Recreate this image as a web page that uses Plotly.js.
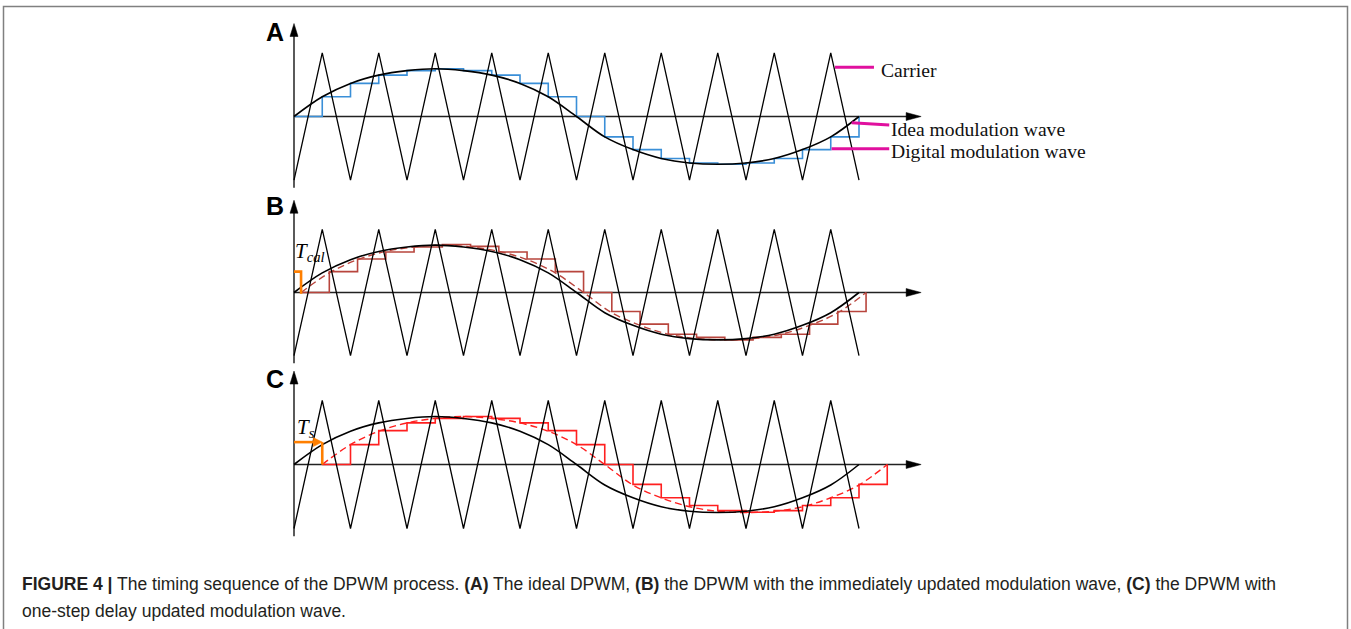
<!DOCTYPE html>
<html><head><meta charset="utf-8">
<script src="https://cdn.plot.ly/plotly-3.0.1.min.js"></script>
<style>html,body{margin:0;padding:0;background:#fff;overflow:hidden}#chart{width:1351px;height:629px}</style>
</head><body><div id="chart"></div>
<script>
// ---- data (time in carrier half-periods, amplitude in carrier units) ----
const sampleT   = [0,1,2,3,4,5,6,7,8,9,10,11,12,13,14,15,16,17,18,19,20];
const carrierV  = [-1,1,-1,1,-1,1,-1,1,-1,1,-1,1,-1,1,-1,1,-1,1,-1,1,-1];
const idealV    = [0,0.31,0.52,0.65,0.72,0.75,0.72,0.65,0.52,0.31,0,-0.32,-0.52,-0.66,-0.73,-0.75,-0.73,-0.66,-0.52,-0.32,0];
const digitalA  = [0,0.31,0.52,0.65,0.72,0.75,0.72,0.65,0.52,0.31,0,-0.32,-0.52,-0.66,-0.73,-0.75,-0.73,-0.66,-0.52,-0.32,0];
const digitalB  = [0,0.33,0.53,0.64,0.72,0.76,0.73,0.64,0.53,0.33,0,-0.30,-0.50,-0.66,-0.71,-0.75,-0.71,-0.66,-0.50,-0.30,0];
const digitalC  = [0,0.31,0.53,0.65,0.72,0.75,0.72,0.65,0.53,0.31,0,-0.31,-0.52,-0.64,-0.72,-0.745,-0.72,-0.64,-0.52,-0.31,0];
const delayB = 0.25;   // T_cal
const delayC = 1;      // T_s
const panelLabels  = ['A','B','C'];
const legendLabels = ['Carrier','Idea modulation wave','Digital modulation wave'];
const captionLine1 = '<b>FIGURE 4 |</b> The timing sequence of the DPWM process. <b>(A)</b> The ideal DPWM, <b>(B)</b> the DPWM with the immediately updated modulation wave, <b>(C)</b> the DPWM with';
const captionLine2 = 'one-step delay updated modulation wave.';

// ---- layout geometry ----
const W = 1351, H = 629;
const X0PX = 294, PX_PER_T = 28.25;
const xRange = [-X0PX/PX_PER_T, (W-X0PX)/PX_PER_T];
const panels = [
  {axis:'yaxis',  ref:'y',  zeroPx:116.5, unitPx:63.7, digital:digitalA, delay:0,      color:'#3a8fd8', dashColor:null,      labelY:32},
  {axis:'yaxis2', ref:'y2', zeroPx:292.5, unitPx:63.2, digital:digitalB, delay:delayB, color:'#b8453d', dashColor:'#b8453d', labelY:206},
  {axis:'yaxis3', ref:'y3', zeroPx:464.5, unitPx:64.0, digital:digitalC, delay:delayC, color:'#ff1f1f', dashColor:'#ff1f1f', labelY:379}
];
const AX_END_T = 22.2, YAX_TOP = 1.46, YAX_BOT = -1.12;
const ORANGE = '#ff7f00', MAGENTA = '#e0109e';

const traces = [];
const annotations = [];
function line(x, y, ref, color, width, extra) {
  traces.push(Object.assign({type:'scatter', mode:'lines', x:x, y:y, yaxis:ref, xaxis:'x',
    line:{color:color, width:width}, hoverinfo:'skip', showlegend:false, cliponaxis:false}, extra||{}));
}
function arrowHead(p, tipT, tipV, dir, lenPx, halfPx, color) {
  const dT = lenPx/PX_PER_T, hT = halfPx/PX_PER_T;
  const dV = lenPx/p.unitPx, hV = halfPx/p.unitPx;
  let x, y;
  if (dir === 'right') { x = [tipT, tipT-dT, tipT-dT, tipT]; y = [tipV, tipV+hV, tipV-hV, tipV]; }
  else { x = [tipT, tipT-hT, tipT+hT, tipT]; y = [tipV, tipV-dV, tipV-dV, tipV]; }
  traces.push({type:'scatter', mode:'lines', x:x, y:y, yaxis:p.ref, xaxis:'x', fill:'toself',
    fillcolor:color, line:{color:color, width:0.5}, hoverinfo:'skip', showlegend:false, cliponaxis:false});
}

panels.forEach((p, i) => {
  // axes
  line([0, AX_END_T - 12/PX_PER_T], [0, 0], p.ref, '#222', 1.3);
  arrowHead(p, AX_END_T, 0, 'right', 15, 4, '#000');
  line([0, 0], [YAX_BOT, YAX_TOP - 10/p.unitPx], p.ref, '#000', 1.3);
  arrowHead(p, 0, YAX_TOP, 'up', 13, 4, '#000');
  // digital staircase
  line(sampleT.map(t => t + p.delay), p.digital, p.ref, p.color, 1.6, {line:{color:p.color, width:1.6, shape:'hv'}});
  // delayed equivalent wave
  if (p.dashColor) {
    line(sampleT.map(t => t + p.delay), idealV, p.ref, p.dashColor, 1.4,
      {line:{color:p.dashColor, width:1.4, shape:'spline', dash:'7px,4px'}});
  }
  // ideal modulation wave
  line(sampleT, idealV, p.ref, '#000', 1.6, {line:{color:'#000', width:1.6, shape:'spline'}});
  // carrier
  line(sampleT, carrierV, p.ref, '#000', 1.3);
  // panel label
  annotations.push({xref:'paper', yref:'paper', x:275/W, y:1 - p.labelY/H, xanchor:'center', yanchor:'middle',
    text:'<b>' + panelLabels[i] + '</b>', showarrow:false, font:{family:'Liberation Sans, Arial', size:25, color:'#000'}});
});

// T_cal marker (panel B)
const pC = panels[2];
line([0, delayB, delayB], [0.33, 0.33, -0.02], 'y2', ORANGE, 2.6);
annotations.push({xref:'x', yref:'y2', x:-0.05, y:0.64, xanchor:'left', yanchor:'middle', showarrow:false,
  text:'<i>T</i><sub><i>cal</i></sub>', font:{family:'Liberation Serif, Times New Roman', size:21, color:'#000'}});
// T_s marker (panel C)
line([0, delayC - 6/PX_PER_T], [0.35, 0.35], 'y3', ORANGE, 2.6);
arrowHead(pC, delayC, 0.35, 'right', 9, 4.5, ORANGE);
line([delayC, delayC], [0.35, 0], 'y3', ORANGE, 2.6);
annotations.push({xref:'x', yref:'y3', x:0.05, y:0.57, xanchor:'left', yanchor:'middle', showarrow:false,
  text:'<i>T</i><sub><i>s</i></sub>', font:{family:'Liberation Serif, Times New Roman', size:21, color:'#000'}});

// legend leaders (panel A)
const leaders = [
  {x:[19.15, 20.53], y:[0.772, 0.772], tx:20.72, ty:0.73},
  {x:[19.74, 21.07], y:[-0.097, -0.133], tx:21.05, ty:-0.21},
  {x:[19.03, 21.07], y:[-0.505, -0.505], tx:21.05, ty:-0.55}
];
leaders.forEach((l, i) => {
  line(l.x, l.y, 'y', MAGENTA, 3);
  annotations.push({xref:'x', yref:'y', x:l.tx, y:l.ty, xanchor:'left', yanchor:'middle', showarrow:false,
    text:legendLabels[i], font:{family:'Liberation Serif, Times New Roman', size:19.6, color:'#111'}});
});

// caption
annotations.push({xref:'paper', yref:'paper', x:20/W, y:1 - 584/H, xanchor:'left', yanchor:'middle', showarrow:false,
  text:captionLine1, font:{family:'Liberation Sans, Arial', size:17.5, color:'#231f20'}});
annotations.push({xref:'paper', yref:'paper', x:20/W, y:1 - 611/H, xanchor:'left', yanchor:'middle', showarrow:false,
  text:captionLine2, font:{family:'Liberation Sans, Arial', size:17.5, color:'#231f20'}});

const layout = {
  width:W, height:H, margin:{l:0, r:0, t:0, b:0}, paper_bgcolor:'#fff', plot_bgcolor:'#fff',
  showlegend:false, hovermode:false,
  xaxis:{range:xRange, visible:false, fixedrange:true},
  annotations:annotations,
  shapes:[{type:'rect', xref:'paper', yref:'paper', x0:3.5/W, x1:1347.5/W, y0:-0.05, y1:1 - 6.5/H,
    line:{color:'#808080', width:1.5}, fillcolor:'rgba(0,0,0,0)'}]
};
panels.forEach(p => {
  const vmax = p.zeroPx / p.unitPx;
  layout[p.axis] = {range:[vmax - H/p.unitPx, vmax], visible:false, fixedrange:true};
  if (p.ref !== 'y') { layout[p.axis].overlaying = 'y'; }
});

Plotly.newPlot('chart', traces, layout, {staticPlot:true, displayModeBar:false});
</script>
</body></html>
